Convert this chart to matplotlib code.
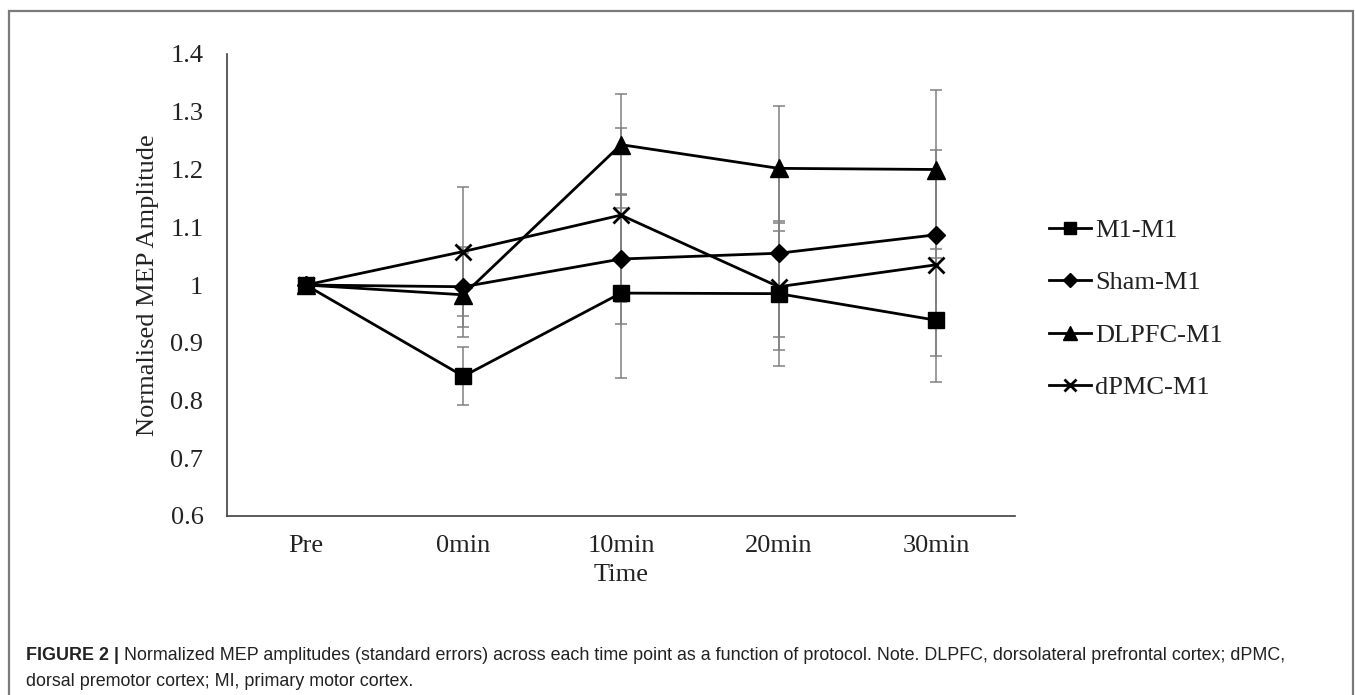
import matplotlib
matplotlib.use('Agg')
import matplotlib.pyplot as plt
from matplotlib.patches import Rectangle

# values (normalised MEP amplitude, standard errors)
times = ['Pre', '0min', '10min', '20min', '30min']
m1_m1 = [1.0, 0.842, 0.986, 0.985, 0.939]
m1_m1_se = [0, 0.050, 0.147, 0.125, 0.107]
sham_m1 = [1.0, 0.997, 1.045, 1.055, 1.087]
sham_m1_se = [0, 0.069, 0.113, 0.145, 0.146]
dlpfc_m1 = [1.0, 0.983, 1.243, 1.202, 1.200]
dlpfc_m1_se = [0, 0.073, 0.088, 0.108, 0.138]
dpmc_m1 = [1.0, 1.058, 1.121, 0.997, 1.035]
dpmc_m1_se = [0, 0.112, 0.150, 0.110, 0.158]

serif = 'Liberation Serif'
fs = 19

fig = plt.figure(figsize=(13.55, 6.95), dpi=100)
ax = fig.add_axes([227/1355, 1 - 516/695, 788/1355, 462/695])

x = list(range(len(times)))
series = [
    ('M1-M1', m1_m1, m1_m1_se, 's', 12),
    ('Sham-M1', sham_m1, sham_m1_se, 'D', 9),
    ('DLPFC-M1', dlpfc_m1, dlpfc_m1_se, '^', 13),
    ('dPMC-M1', dpmc_m1, dpmc_m1_se, 'x', 12),
]

# error bars first so the lines sit on top
for name, vals, se, mk, ms in series:
    ax.errorbar(x, vals, yerr=se, fmt='none', ecolor='#808080',
                elinewidth=1.1, capsize=4.5, capthick=1.1, zorder=1)
for name, vals, se, mk, ms in series:
    ax.plot(x, vals, color='black', linewidth=2, marker=mk, markersize=ms,
            markeredgewidth=2 if mk == 'x' else 1, label=name, zorder=3)

ax.set_xlim(-0.5, 4.5)
ax.set_ylim(0.6, 1.4)
ax.set_yticks([0.6, 0.7, 0.8, 0.9, 1.0, 1.1, 1.2, 1.3, 1.4])
ax.set_yticklabels(['0.6', '0.7', '0.8', '0.9', '1', '1.1', '1.2', '1.3', '1.4'])
ax.set_xticks(x)
ax.set_xticklabels(times)
ax.tick_params(length=0, labelsize=fs, colors='#222222')
ax.tick_params(axis='y', pad=17)
ax.tick_params(axis='x', pad=14)
for lab in ax.get_xticklabels() + ax.get_yticklabels():
    lab.set_family(serif)

ax.spines['top'].set_visible(False)
ax.spines['right'].set_visible(False)
ax.spines['left'].set_color('#404040')
ax.spines['bottom'].set_color('#404040')
ax.spines['left'].set_linewidth(1.2)
ax.spines['bottom'].set_linewidth(1.2)

ax.set_xlabel('Time', fontsize=fs, family=serif, color='#222222', labelpad=5)
ax.set_ylabel('Normalised MEP Amplitude', fontsize=fs, family=serif,
              color='#222222', labelpad=8)

leg = fig.legend(loc='center left', bbox_to_anchor=(1049/1355, 1 - 309/695),
                 frameon=False, prop={'family': serif, 'size': fs},
                 handlelength=1.6, handletextpad=0.15, labelspacing=1.1,
                 markerscale=0.75, borderpad=0, borderaxespad=0)
for t in leg.get_texts():
    t.set_color('#222222')

# frame around figure
fig.patches.append(Rectangle((9/1355, -0.05), 1344/1355, 1.05 - 11/695,
                             transform=fig.transFigure, fill=False,
                             edgecolor='#7a7a7a', linewidth=1.6))

# caption
cap_fs = 12.9
y1 = 1 - 660/695
y2 = 1 - 686/695
bold = fig.text(26/1355, y1, 'FIGURE 2 |', fontsize=cap_fs, fontweight='bold',
                family='Liberation Sans', color='#222222', va='baseline')
fig.canvas.draw()
bb = bold.get_window_extent(fig.canvas.get_renderer())
fig.text((bb.x1 + 5)/1355, y1,
         'Normalized MEP amplitudes (standard errors) across each time point as a '
         'function of protocol. Note. DLPFC, dorsolateral prefrontal cortex; dPMC,',
         fontsize=cap_fs, family='Liberation Sans', color='#222222', va='baseline')
fig.text(26/1355, y2, 'dorsal premotor cortex; MI, primary motor cortex.',
         fontsize=cap_fs, family='Liberation Sans', color='#222222', va='baseline')

fig.savefig('out.png', dpi=100)
